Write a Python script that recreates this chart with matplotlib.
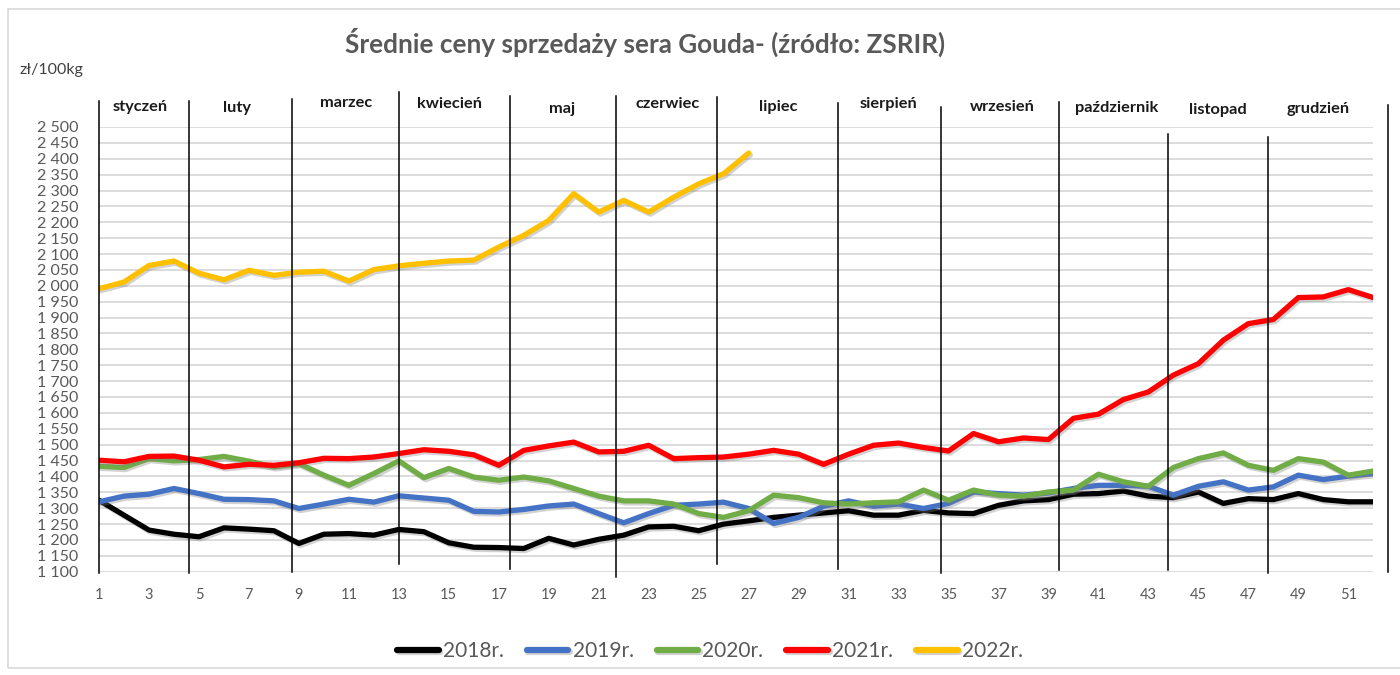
import numpy as np
import matplotlib
matplotlib.use("Agg")
import matplotlib.pyplot as plt
import matplotlib.patheffects as pe
from matplotlib.ticker import FuncFormatter, MultipleLocator
from matplotlib.patches import Rectangle

plt.rcParams['font.family'] = ['Lato', 'DejaVu Sans']

# weekly prices, zl/100kg
weeks = np.arange(1, 53)
p2018 = [1325, 1278, 1231, 1218, 1210, 1238, 1234, 1229, 1189, 1218,
         1220, 1215, 1233, 1226, 1191, 1177, 1176, 1173, 1205, 1184,
         1202, 1215, 1241, 1243, 1229, 1250, 1260, 1271, 1278, 1285,
         1292, 1278, 1278, 1293, 1285, 1283, 1309, 1323, 1327, 1344,
         1346, 1354, 1338, 1333, 1351, 1315, 1330, 1327, 1346, 1327,
         1320, 1320]
p2019 = [1320, 1338, 1344, 1362, 1346, 1328, 1327, 1323, 1299, 1313,
         1328, 1319, 1339, 1332, 1325, 1290, 1288, 1296, 1307, 1313,
         1283, 1254, 1283, 1309, 1313, 1319, 1299, 1252, 1271, 1306,
         1323, 1306, 1313, 1299, 1315, 1351, 1346, 1341, 1348, 1362,
         1372, 1372, 1369, 1341, 1369, 1383, 1357, 1367, 1404, 1390,
         1401, 1409]
p2020 = [1432, 1428, 1456, 1449, 1453, 1463, 1448, 1430, 1440, 1404,
         1372, 1409, 1449, 1396, 1425, 1398, 1388, 1398, 1386, 1362,
         1338, 1323, 1323, 1313, 1283, 1271, 1292, 1341, 1333, 1317,
         1313, 1317, 1320, 1357, 1325, 1357, 1341, 1338, 1351, 1357,
         1407, 1383, 1369, 1428, 1456, 1474, 1435, 1419, 1456, 1445,
         1404, 1417]
p2021 = [1451, 1446, 1463, 1464, 1451, 1430, 1438, 1435, 1443, 1457,
         1456, 1461, 1472, 1484, 1479, 1468, 1435, 1482, 1496, 1508,
         1477, 1479, 1498, 1456, 1459, 1461, 1470, 1482, 1470, 1438,
         1470, 1498, 1505, 1491, 1480, 1535, 1509, 1521, 1516, 1583,
         1596, 1642, 1666, 1719, 1755, 1829, 1881, 1894, 1963, 1965,
         1988, 1963]
p2022 = [1991, 2012, 2064, 2078, 2040, 2019, 2049, 2033, 2043, 2046,
         2015, 2051, 2063, 2071, 2078, 2081, 2122, 2159, 2206, 2290,
         2232, 2269, 2232, 2279, 2321, 2353, 2418]

series = [("2018r.", p2018, "#000000"),
          ("2019r.", p2019, "#4472C4"),
          ("2020r.", p2020, "#70AD47"),
          ("2021r.", p2021, "#FF0000"),
          ("2022r.", p2022, "#FFC000")]

# month separators (week position, top, bottom in data units)
sep_x = [1, 4.59, 8.71, 12.99, 17.44, 21.68, 25.75, 30.58, 34.69, 39.43, 43.79, 47.80, 52.6]
sep_top = [2583, 2583, 2589, 2609, 2597, 2597, 2593, 2574, 2562, 2579, 2477, 2467, 2569]
sep_bot = [1097, 1095, 1100, 1123, 1108, 1084, 1123, 1108, 1097, 1105, 1105, 1097, 1100]

months = ["styczeń", "luty", "marzec", "kwiecień", "maj", "czerwiec",
          "lipiec", "sierpień", "wrzesień", "październik", "listopad", "grudzień"]
month_x = [2.63, 6.51, 10.88, 15.04, 19.52, 23.77, 28.17, 32.61, 37.14, 41.74, 45.79, 49.79]
month_y = [2564, 2561, 2577, 2571, 2558, 2571, 2564, 2571, 2564, 2561, 2552, 2558]

gray = "#595959"

fig = plt.figure(figsize=(14, 6.75), dpi=100)
fig.patches.append(Rectangle((8/1400, 7/675), 1.05, 659/675, transform=fig.transFigure,
                             fill=False, edgecolor="#d9d9d9", lw=1.2))
ax = fig.add_axes([99/1400, 1 - 571.7/675, (1373.3 - 99)/1400, (571.7 - 127)/675])

for lab, vals, col in series:
    ax.plot(weeks[:len(vals)], vals, color=col, lw=3.8, label=lab,
            solid_joinstyle="round", solid_capstyle="round",
            path_effects=[pe.SimpleLineShadow(offset=(1.2, -1.5), alpha=0.35, shadow_color="gray"),
                          pe.Normal()])

for x, t, b in zip(sep_x, sep_top, sep_bot):
    ax.plot([x, x], [b, t], color="black", lw=1.1, clip_on=False, zorder=5)

for m, x, y in zip(months, month_x, month_y):
    ax.text(x, y, m, ha="center", va="center", fontsize=11.8, fontweight="bold",
            color="#1a1a1a", clip_on=False)

ax.set_xlim(1, 52)
ax.set_ylim(1100, 2500)
ax.yaxis.set_major_locator(MultipleLocator(50))
ax.set_xticks(np.arange(1, 52, 2))
ax.yaxis.set_major_formatter(FuncFormatter(lambda v, p: "{:,.0f}".format(v).replace(",", " ")))
ax.tick_params(axis="y", length=0, pad=15, labelsize=11.5, labelcolor=gray)
ax.tick_params(axis="x", length=0, pad=12, labelsize=10.5, labelcolor=gray)
ax.grid(axis="y", color="#d9d9d9", lw=1.3)
ax.set_axisbelow(True)
for s in ax.spines.values():
    s.set_visible(False)

fig.text(645/1400, 1 - 42/675, "Średnie ceny sprzedaży sera Gouda- (źródło: ZSRIR)",
         ha="center", va="center", fontsize=18.8, fontweight="bold", color=gray)
fig.text(20/1400, 1 - 70/675, "zł/100kg", ha="left", va="center", fontsize=11.5, color="#404040")

leg = fig.legend(loc="center", bbox_to_anchor=(710/1400, 1 - 651/675), ncol=5,
                 frameon=False, fontsize=15, handlelength=2.0, handletextpad=0.2,
                 columnspacing=1.1)
for t in leg.get_texts():
    t.set_color(gray)
for h in leg.get_lines():
    h.set_linewidth(4.5)

fig.savefig("out.png", dpi=100)
